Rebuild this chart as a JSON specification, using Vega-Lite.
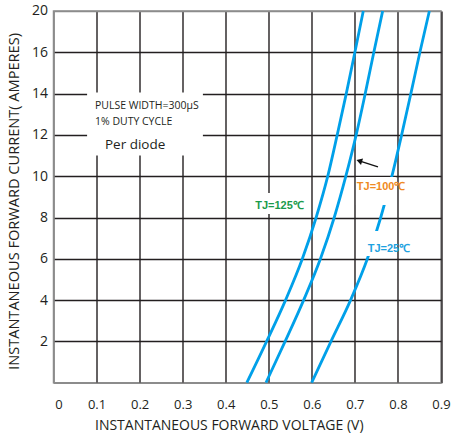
{
  "$schema": "https://vega.github.io/schema/vega-lite/v6.json",
  "width": 387.5,
  "height": 371.7,
  "autosize": "none",
  "padding": {"left": 53.5, "top": 11, "right": 12, "bottom": 56},
  "background": "white",
  "config": {"view": {"stroke": "#8c8c8c", "strokeWidth": 1.5}, "font": "Open Sans"},
  "datasets": {
    "curves": [
      {"tj": "125", "v": 0.449, "i": 0}, {"tj": "125", "v": 0.495, "i": 2}, {"tj": "125", "v": 0.539, "i": 4},
      {"tj": "125", "v": 0.578, "i": 6}, {"tj": "125", "v": 0.61, "i": 8}, {"tj": "125", "v": 0.637, "i": 10},
      {"tj": "125", "v": 0.659, "i": 12}, {"tj": "125", "v": 0.68, "i": 14}, {"tj": "125", "v": 0.7, "i": 16},
      {"tj": "125", "v": 0.7195, "i": 18},
      {"tj": "100", "v": 0.4935, "i": 0}, {"tj": "100", "v": 0.538, "i": 2}, {"tj": "100", "v": 0.581, "i": 4},
      {"tj": "100", "v": 0.62, "i": 6}, {"tj": "100", "v": 0.652, "i": 8}, {"tj": "100", "v": 0.679, "i": 10},
      {"tj": "100", "v": 0.703, "i": 12}, {"tj": "100", "v": 0.724, "i": 14}, {"tj": "100", "v": 0.744, "i": 16},
      {"tj": "100", "v": 0.7645, "i": 18},
      {"tj": "25", "v": 0.5996, "i": 0}, {"tj": "25", "v": 0.6445, "i": 2}, {"tj": "25", "v": 0.69, "i": 4},
      {"tj": "25", "v": 0.729, "i": 6}, {"tj": "25", "v": 0.76, "i": 8}, {"tj": "25", "v": 0.786, "i": 10},
      {"tj": "25", "v": 0.8086, "i": 12}, {"tj": "25", "v": 0.83, "i": 14}, {"tj": "25", "v": 0.851, "i": 16},
      {"tj": "25", "v": 0.873, "i": 18}
    ],
    "boxbg": [{"v1": 0.078, "v2": 0.347, "i1": 11.0, "i2": 14.05}],
    "labelbg": [
      {"tj": "125", "v1": 0.456, "v2": 0.591, "i1": 8.17, "i2": 9.19},
      {"tj": "100", "v1": 0.7025, "v2": 0.795, "i1": 8.6, "i2": 9.96},
      {"tj": "25", "v1": 0.7165, "v2": 0.793, "i1": 6.14, "i2": 7.35}
    ],
    "tjlabels": [
      {"tj": "125", "text": "TJ=125℃", "v": 0.525, "i": 8.39},
      {"tj": "100", "text": "TJ=100℃", "v": 0.761, "i": 9.33},
      {"tj": "25", "text": "TJ=25℃", "v": 0.779, "i": 6.33}
    ],
    "notes": [
      {"text": "PULSE WIDTH=300μS", "v": 0.0964, "i": 13.25},
      {"text": "1% DUTY CYCLE", "v": 0.0964, "i": 12.48}
    ],
    "notes2": [{"text": "Per diode", "v": 0.1196, "i": 11.32}],
    "arrow": [{"v": 0.7536, "i": 10.45, "v2": 0.7102, "i2": 10.74}]
  },
  "layer": [
    {
      "data": {"name": "boxbg"},
      "mark": {"type": "rect", "color": "white"},
      "encoding": {
        "x": {"field": "v1", "type": "quantitative",
          "scale": {"domain": [0, 0.9], "nice": false, "zero": false},
          "axis": {
            "values": [0, 0.1, 0.2, 0.3, 0.4, 0.5, 0.6, 0.7, 0.8, 0.9],
            "format": ".1~f",
            "grid": true,
            "gridColor": {"condition": {"test": "datum.value == 0", "value": "#8c8c8c"}, "value": "#231f20"},
            "gridWidth": 1.4,
            "domainColor": "#8c8c8c", "domainWidth": 1.5,
            "ticks": false,
            "labelPadding": 16,
            "labelFontSize": 13,
            "labelColor": "#231f20",
            "labelFlush": false,
            "labelOffset": {"condition": {"test": "datum.value == 0", "value": 5}, "value": 0},
            "title": "INSTANTANEOUS FORWARD VOLTAGE (V)",
            "titleFontSize": 14,
            "titleFontWeight": "normal",
            "titleColor": "#231f20",
            "titleAlign": "left",
            "titleBaseline": "top",
            "titleX": 41,
            "titleY": 36
          }
        },
        "x2": {"field": "v2"},
        "y": {"field": "i1", "type": "quantitative",
          "scale": {"domain": [0, 18], "nice": false, "zero": false},
          "axis": {
            "values": [2, 4, 6, 8, 10, 12, 14, 16, 18],
            "labelExpr": "datum.value == 18 ? '20' : datum.label",
            "grid": true,
            "gridColor": {"condition": {"test": "datum.value == 18", "value": "#8c8c8c"}, "value": "#231f20"},
            "gridWidth": 1.4,
            "domainColor": "#8c8c8c", "domainWidth": 1.5,
            "ticks": false,
            "labelPadding": 6,
            "labelFontSize": 14,
            "labelColor": "#231f20",
            "labelFlush": false,
            "title": "INSTANTANEOUS FORWARD CURRENT( AMPERES)",
            "titleFontSize": 14.6,
            "titleFontWeight": "normal",
            "titleColor": "#231f20",
            "titleBaseline": "middle",
            "titleAlign": "center",
            "titleX": -39,
            "titleY": 190
          }
        },
        "y2": {"field": "i2"}
      }
    },
    {
      "data": {"name": "curves"},
      "mark": {"type": "line", "color": "#00a0e9", "strokeWidth": 2.8, "interpolate": "monotone"},
      "encoding": {
        "x": {"field": "v", "type": "quantitative"},
        "y": {"field": "i", "type": "quantitative"},
        "detail": {"field": "tj"},
        "order": {"field": "i"}
      }
    },
    {
      "data": {"name": "labelbg"},
      "mark": {"type": "rect", "color": "white"},
      "encoding": {
        "x": {"field": "v1", "type": "quantitative"},
        "x2": {"field": "v2"},
        "y": {"field": "i1", "type": "quantitative"},
        "y2": {"field": "i2"}
      }
    },
    {
      "data": {"name": "tjlabels"},
      "mark": {"type": "text", "fontWeight": "bold", "fontSize": 11, "font": "Liberation Sans", "align": "center", "baseline": "alphabetic"},
      "encoding": {
        "x": {"field": "v", "type": "quantitative"},
        "y": {"field": "i", "type": "quantitative"},
        "text": {"field": "text"},
        "color": {"field": "tj", "type": "nominal",
          "scale": {"domain": ["125", "100", "25"], "range": ["#1a9b4b", "#ef8a22", "#1ea2e0"]},
          "legend": null}
      }
    },
    {
      "data": {"name": "notes"},
      "mark": {"type": "text", "fontSize": 10.5, "align": "left", "baseline": "alphabetic", "color": "#231f20"},
      "encoding": {
        "x": {"field": "v", "type": "quantitative"},
        "y": {"field": "i", "type": "quantitative"},
        "text": {"field": "text"}
      }
    },
    {
      "data": {"name": "notes2"},
      "mark": {"type": "text", "fontSize": 13.5, "align": "left", "baseline": "alphabetic", "color": "#231f20"},
      "encoding": {
        "x": {"field": "v", "type": "quantitative"},
        "y": {"field": "i", "type": "quantitative"},
        "text": {"field": "text"}
      }
    },
    {
      "data": {"name": "arrow"},
      "mark": {"type": "rule", "color": "#111111", "strokeWidth": 1.3},
      "encoding": {
        "x": {"field": "v", "type": "quantitative"},
        "y": {"field": "i", "type": "quantitative"},
        "x2": {"field": "v2"},
        "y2": {"field": "i2"}
      }
    },
    {
      "data": {"name": "arrow"},
      "mark": {"type": "point", "shape": "triangle-left", "filled": true, "color": "#111111", "size": 45, "angle": 17.6, "opacity": 1},
      "encoding": {
        "x": {"field": "v2", "type": "quantitative"},
        "y": {"field": "i2", "type": "quantitative"}
      }
    }
  ]
}
